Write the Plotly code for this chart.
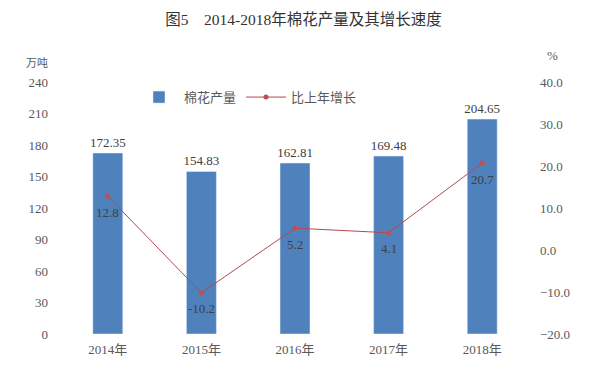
import plotly.graph_objects as go

years = ["2014年", "2015年", "2016年", "2017年", "2018年"]
output = [172.35, 154.83, 162.81, 169.48, 204.65]
growth = [12.8, -10.2, 5.2, 4.1, 20.7]
left_ticks = [0, 30, 60, 90, 120, 150, 180, 210, 240]
right_ticks = [-20, -10, 0, 10, 20, 30, 40]

FONT = "Liberation Serif, Noto Sans CJK SC"
GREY = "#595959"
LABEL = "#404040"

fig = go.Figure()
fig.add_trace(go.Bar(
    x=years, y=output, name="棉花产量", width=0.32,
    marker=dict(color="#4F81BD"),
    text=[f"{v:.2f}" for v in output], textposition="outside",
    constraintext="none",
    textfont=dict(family=FONT, size=13, color=LABEL),
    cliponaxis=False,
))
fig.add_trace(go.Scatter(
    x=years, y=growth, name="比上年增长", yaxis="y2",
    mode="lines+markers",
    line=dict(color="#B8474F", width=1),
    marker=dict(color="#C0504D", size=5),
    cliponaxis=False,
))

fig.update_layout(
    width=595, height=370,
    margin=dict(l=61, r=66, t=82, b=36),
    paper_bgcolor="white", plot_bgcolor="white",
    font=dict(family=FONT, color=GREY, size=12),
    title=dict(text="图5　2014-2018年棉花产量及其增长速度", x=0.51, xanchor="center",
               y=0.947, yanchor="middle",
               font=dict(family=FONT, size=15.5, color="#333333")),
    showlegend=True,
    legend=dict(orientation="h", x=0.156, y=0.94, xanchor="left", yanchor="middle",
                font=dict(family=FONT, size=13, color=GREY),
                itemwidth=40, tracegroupgap=0, bgcolor="rgba(0,0,0,0)"),
    xaxis=dict(type="category", showline=False, ticks="", showgrid=False,
               ticklabelstandoff=6,
               tickfont=dict(family=FONT, size=13, color=GREY)),
    yaxis=dict(range=[0, 240], tickvals=left_ticks, showgrid=False, zeroline=False,
               showline=False, ticks="", ticklabelstandoff=12,
               tickfont=dict(family=FONT, size=13, color=GREY)),
    yaxis2=dict(range=[-20, 40], tickvals=right_ticks, overlaying="y", side="right",
                tickformat=".1f", showgrid=False, zeroline=False, showline=False, ticks="",
                ticklabelstandoff=10,
                tickfont=dict(family=FONT, size=13, color=GREY)),
)

for yr, g in zip(years, growth):
    fig.add_annotation(x=yr, y=g, xref="x", yref="y2", text=f"{g:.1f}",
                       showarrow=False, yshift=-16, xanchor="center", yanchor="middle",
                       font=dict(family=FONT, size=13, color=LABEL))

fig.add_annotation(text="万吨", xref="paper", yref="paper", x=-0.051, y=1.079,
                   xanchor="center", yanchor="middle",
                   showarrow=False, font=dict(family="Noto Sans CJK SC", size=11, color=GREY))
fig.add_annotation(text="%", xref="paper", yref="paper", x=1.051, y=1.107,
                   xanchor="center", yanchor="middle",
                   showarrow=False, font=dict(family=FONT, size=13, color=GREY))

fig.write_html("out.html", config={"displayModeBar": False},
               post_script="document.body.style.margin='0';document.body.style.padding='0';")
